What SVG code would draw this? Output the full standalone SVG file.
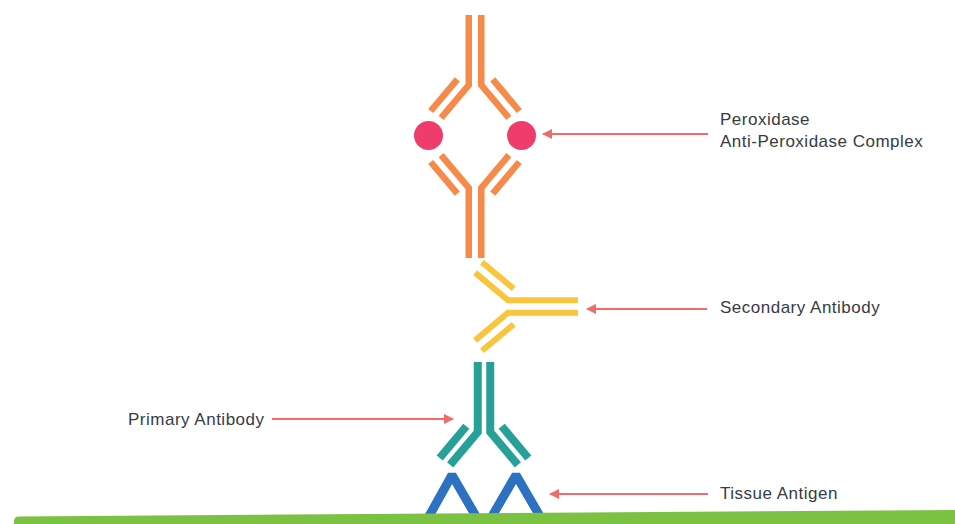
<svg xmlns="http://www.w3.org/2000/svg" xmlns:xlink="http://www.w3.org/1999/xlink" width="955" height="524" viewBox="0 0 955 524">
  <style>
    .label { font-family: "Liberation Sans", Arial, sans-serif; font-size: 17px; letter-spacing: 0.5px; fill: #363b44; }
    .pointer { stroke: #f26b6b; stroke-width: 2; fill: none; marker-end: url(#head); }
    .ab { fill: none; stroke-linecap: butt; stroke-linejoin: miter; }
  </style>
  <defs>
    <marker id="head" viewBox="0 0 10 10" refX="9" refY="5" markerWidth="5" markerHeight="5" orient="auto" markerUnits="strokeWidth">
      <path d="M0,0 L10,5 L0,10 Z" fill="#f26b6b"/>
    </marker>
    <!-- generic antibody: stem pointing up (-y), arms spreading downward at ~40 degrees -->
    <g id="antibody">
      <path d="M-6.25,-70 V0 L-33.9,32.9"/>
      <path d="M6.25,-70 V0 L33.9,32.9"/>
      <path d="M-17.7,-5.7 L-44.3,26"/>
      <path d="M17.7,-5.7 L44.3,26"/>
    </g>
  </defs>

  <rect width="955" height="524" fill="#ffffff"/>

  <!-- peroxidase anti-peroxidase complex -->
  <g id="pap-complex">
    <use xlink:href="#antibody" class="ab" stroke="#f58a4b" stroke-width="6.5" transform="translate(475,85)"/>
    <use xlink:href="#antibody" class="ab" stroke="#f58a4b" stroke-width="6.5" transform="translate(475,188) scale(1,-1)"/>
    <circle cx="428.5" cy="135.5" r="14.5" fill="#ee3d6c"/>
    <circle cx="521.5" cy="135.5" r="14.5" fill="#ee3d6c"/>
  </g>

  <!-- secondary antibody -->
  <g id="secondary-antibody">
    <use xlink:href="#antibody" class="ab" stroke="#f9c53c" stroke-width="6" transform="translate(508,306.5) rotate(90)"/>
  </g>

  <!-- primary antibody -->
  <g id="primary-antibody">
    <use xlink:href="#antibody" class="ab" stroke="#27a098" stroke-width="8" transform="translate(484,432)"/>
  </g>

  <!-- tissue antigen -->
  <g id="tissue-antigen" fill="none" stroke="#2c72c0" stroke-width="9" stroke-linejoin="bevel">
    <polyline points="428,518 452,475 477,518"/>
    <polyline points="491,518 516,475 541,518"/>
  </g>

  <!-- tissue section -->
  <g id="tissue">
    <path d="M19,516.5 L955,510 V524 H14 V521.5 Q14,516.5 19,516.5 Z" fill="#7cc242"/>
  </g>

  <!-- label pointers -->
  <g id="connectors">
    <line class="pointer" x1="708" y1="134" x2="543" y2="134"/>
    <line class="pointer" x1="707" y1="309" x2="587" y2="309"/>
    <line class="pointer" x1="272" y1="419" x2="453" y2="419"/>
    <line class="pointer" x1="708" y1="494" x2="550" y2="494"/>
  </g>

  <g id="labels">
    <text class="label" x="720" y="125">Peroxidase</text>
    <text class="label" x="720" y="147">Anti-Peroxidase Complex</text>
    <text class="label" x="720" y="313">Secondary Antibody</text>
    <text class="label" x="128" y="425">Primary Antibody</text>
    <text class="label" x="720" y="499">Tissue Antigen</text>
  </g>
</svg>
